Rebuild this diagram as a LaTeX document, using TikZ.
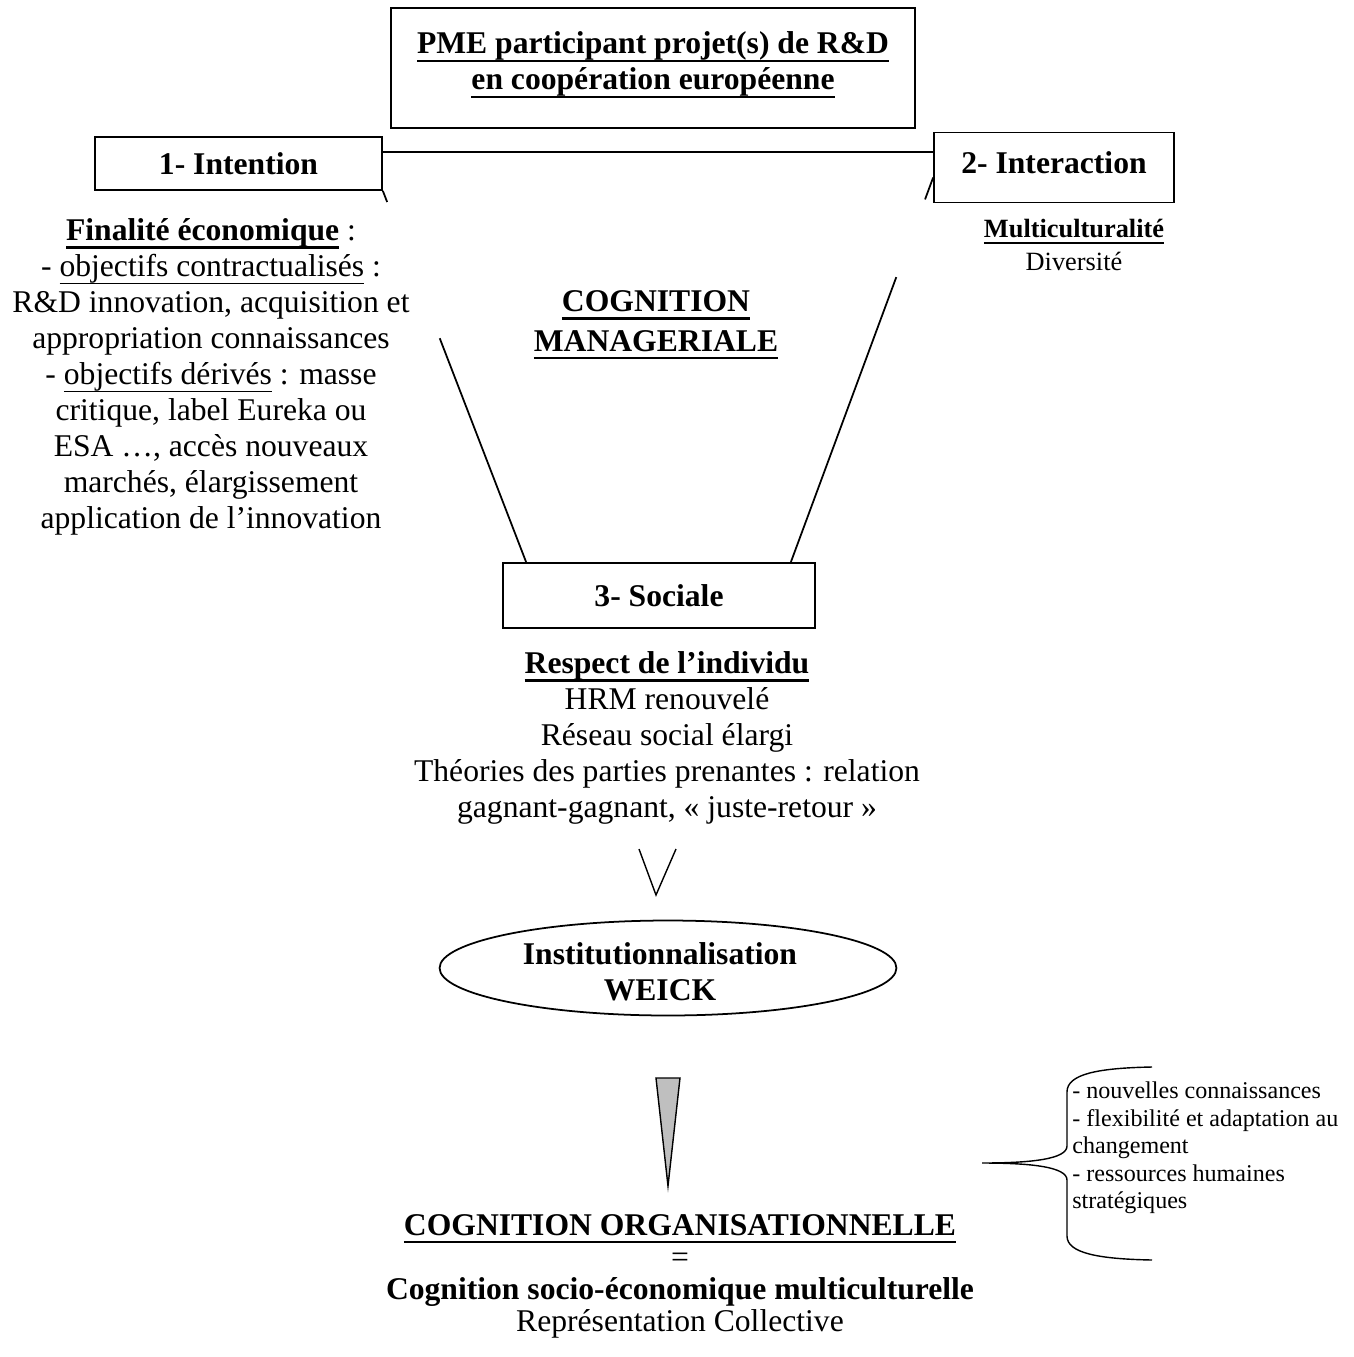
\documentclass[tikz,border=0pt]{standalone}
\usepackage{fontspec}
\setmainfont{Liberation Serif}
\usetikzlibrary{calc,positioning,shapes.geometric}
% soulignement a la Word
\newcommand{\souligne}[1]{\setbox0\hbox{#1}\rlap{\rule[-0.24em]{\wd0}{0.05em}}\box0\relax}
\newcommand{\soulgras}[1]{\setbox0\hbox{\bfseries #1}\rlap{\rule[-0.26em]{\wd0}{0.08em}}\box0\relax}
\tikzset{
    etape/.style={
    rectangle,draw=black,line width=1pt,inner sep=0pt
    },
    titre/.style={
    font=\fontsize{18}{20.5}\selectfont\bfseries,align=center,inner sep=0pt
    },
    texte/.style={
    font=\fontsize{18}{20.5}\selectfont,align=center,inner sep=0pt
    },
    petit/.style={
    font=\fontsize{13.7}{15.6}\selectfont,align=left,inner sep=0pt
    },
    trait/.style={draw=black,line width=1pt},
}
\begin{document}
\begin{tikzpicture}[x=0.02cm,y=-0.02cm]
   \useasboundingbox (0,0) rectangle (1354,1357);

   % cadres
   \node[etape,minimum width=10.48cm,minimum height=2.4cm] (pme) at (653,68) {};
   \node[titre] (pmetxt) at (653,65) {\soulgras{PME participant projet(s) de R\&D}\\\soulgras{en coopération européenne}};
   \node[etape,titre,minimum width=5.74cm,minimum height=1.06cm] (intent) at (238.5,163.5) {1- Intention};
   \node[etape,minimum width=4.8cm,minimum height=1.4cm] (inter) at (1054,167.5) {};
   \node[titre] (intertxt) at (1054,163) {2- Interaction};
   \node[etape,titre,minimum width=6.24cm,minimum height=1.3cm] (soc) at (659,595.5) {3- Sociale};

   % textes
   \node[texte] (finalite) at (211,377) {\soulgras{Finalité économique} :\\
      - \souligne{objectifs contractualisés} :\\
      R\&D innovation, acquisition et\\
      appropriation connaissances\\
      - \souligne{objectifs dérivés} : masse\\
      critique, label Eureka ou\\
      ESA …, accès nouveaux\\
      marchés, élargissement\\
      application de l’innovation};
   \node[titre] (cogman) at (656,325) {\soulgras{COGNITION}\\[2pt]\soulgras{MANAGERIALE}};
   \node[texte,font=\fontsize{15}{19}\selectfont] (multi) at (1074,245) {\soulgras{Multiculturalité}\\Diversité};
   \node[texte] (respect) at (667,738) {\soulgras{Respect de l’individu}\\
      HRM renouvelé\\
      Réseau social élargi\\
      Théories des parties prenantes : relation\\
      gagnant-gagnant, « juste-retour »};

   % liaisons
   \draw[trait] ([yshift=0.23cm]intent.east) -- ([yshift=0.31cm]inter.west);
   \coordinate (g0) at (intent.south east);
   \coordinate (g1) at ([xshift=0.48cm]soc.north west);
   \coordinate (d0) at ([yshift=-0.2cm]inter.west);
   \coordinate (d1) at ([xshift=-0.5cm]soc.north east);
   \draw[trait] (g0) -- ($(g0)!0.03!(g1)$) ($(g0)!0.397!(g1)$) -- (g1);
   \draw[trait] (d0) -- ($(d0)!0.057!(d1)$) ($(d0)!0.259!(d1)$) -- (d1);

   % fleche ouverte
   \draw[line width=0.8pt] (639,849) -- (656,895) -- (676,849);

   % institutionnalisation
   \node[ellipse,draw=black,line width=1pt,minimum width=9.14cm,minimum height=1.9cm] (weick) at (668,968) {};
   \node[titre] (weicktxt) at (660,972) {Institutionnalisation\\WEICK};

   % fleche grise
   \filldraw[fill=black!25,draw=black,line width=0.8pt] (656,1078) -- (680,1078) -- (668,1186) -- cycle;

   % accolade
   \draw[line width=0.8pt] (1152,1067) .. controls (1098,1068) and (1067,1074) .. (1067,1092)
      -- (1067,1146) .. controls (1067,1159) and (1032,1163) .. (982,1163)
      .. controls (1032,1163) and (1067,1167) .. (1067,1180)
      -- (1067,1236) .. controls (1067,1253) and (1098,1259) .. (1152,1260);
   \node[petit,anchor=west] (apports) at (1072,1148) {- nouvelles connaissances\\
      - flexibilité et adaptation au\\
      changement\\
      - ressources humaines\\
      stratégiques};

   % cognition organisationnelle
   \node[texte,font=\fontsize{18}{18.2}\selectfont] (cogorg) at (680,1276) {\soulgras{COGNITION ORGANISATIONNELLE}\\
      =\\
      \textbf{Cognition socio-économique multiculturelle}\\
      Représentation Collective};
\end{tikzpicture}
\end{document}
